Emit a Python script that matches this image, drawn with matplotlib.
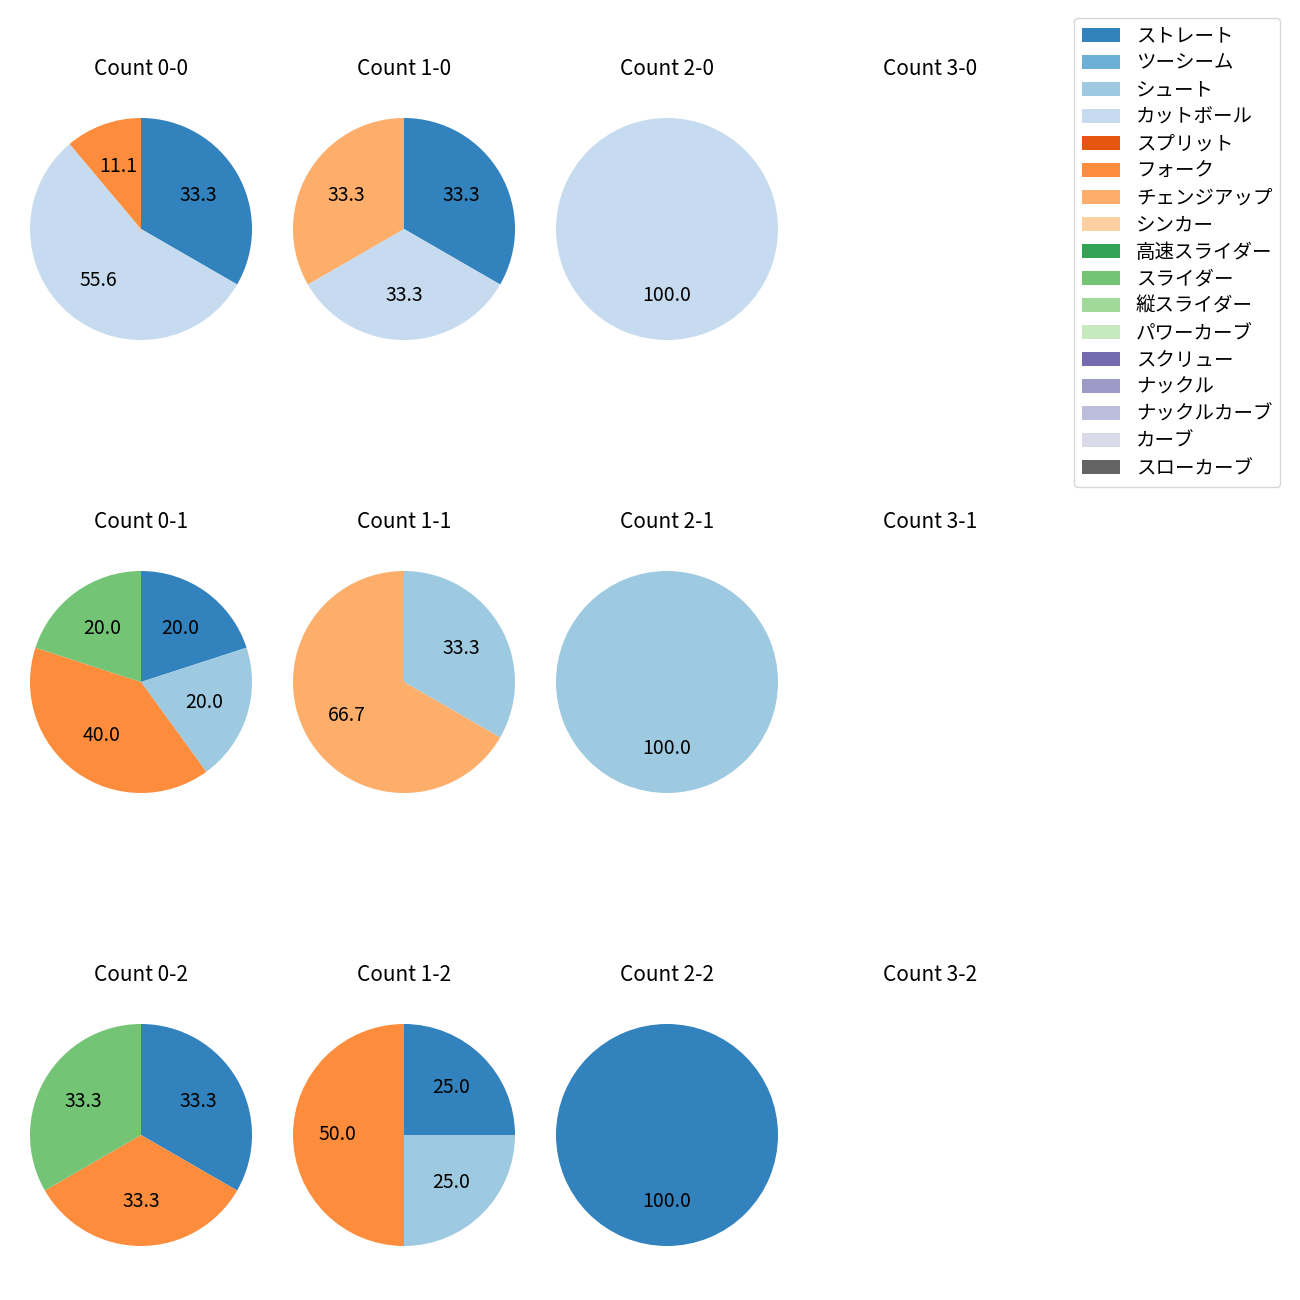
import matplotlib.pyplot as plt
from matplotlib.patches import Patch

plt.rcParams['font.family'] = ['Noto Sans CJK JP', 'DejaVu Sans']

# pitch types in legend order, tab20c colours
pitch_types = ['ストレート', 'ツーシーム', 'シュート', 'カットボール', 'スプリット', 'フォーク',
               'チェンジアップ', 'シンカー', '高速スライダー', 'スライダー', '縦スライダー',
               'パワーカーブ', 'スクリュー', 'ナックル', 'ナックルカーブ', 'カーブ', 'スローカーブ']
pitch_colors = ['#3182bd', '#6baed6', '#9ecae1', '#c6dbef', '#e6550d', '#fd8d3c',
                '#fdae6b', '#fdd0a2', '#31a354', '#74c476', '#a1d99b', '#c7e9c0',
                '#756bb1', '#9e9ac8', '#bcbddc', '#dadaeb', '#636363']

# pitch counts per ball-strike count
count_0_0 = {'ストレート': 3, 'カットボール': 5, 'フォーク': 1}
count_1_0 = {'ストレート': 1, 'カットボール': 1, 'チェンジアップ': 1}
count_2_0 = {'カットボール': 1}
count_3_0 = {}
count_0_1 = {'ストレート': 1, 'シュート': 1, 'フォーク': 2, 'スライダー': 1}
count_1_1 = {'シュート': 1, 'チェンジアップ': 2}
count_2_1 = {'シュート': 1}
count_3_1 = {}
count_0_2 = {'ストレート': 1, 'フォーク': 1, 'スライダー': 1}
count_1_2 = {'ストレート': 1, 'シュート': 1, 'フォーク': 2}
count_2_2 = {'ストレート': 1}
count_3_2 = {}

grid = [[count_0_0, count_1_0, count_2_0, count_3_0],
        [count_0_1, count_1_1, count_2_1, count_3_1],
        [count_0_2, count_1_2, count_2_2, count_3_2]]

color_map = dict(zip(pitch_types, pitch_colors))

fig = plt.figure(figsize=(13, 13), dpi=100)

col_centers = [141, 404, 667, 930]
row_centers = [229, 682, 1135]
size = 277.5

for strikes, row in enumerate(grid):
    for balls, data in enumerate(row):
        cx, cy = col_centers[balls], row_centers[strikes]
        ax = fig.add_axes([(cx - size / 2) / 1300, 1 - (cy + size / 2) / 1300,
                           size / 1300, size / 1300])
        ax.set_title(f'Count {balls}-{strikes}', fontsize=15, pad=11)
        if not data:
            ax.axis('off')
            continue
        labels = [p for p in pitch_types if p in data]
        values = [data[p] for p in labels]
        ax.pie(values, colors=[color_map[p] for p in labels], startangle=90,
               counterclock=False, autopct='%.1f', textprops={'fontsize': 14})

handles = [Patch(facecolor=c) for c in pitch_colors]
fig.legend(handles, pitch_types, loc='upper right',
           bbox_to_anchor=(1290 / 1300, 1 - 8 / 1300), fontsize=14,
           labelspacing=0.31)

fig.savefig('out.png', dpi=100)
